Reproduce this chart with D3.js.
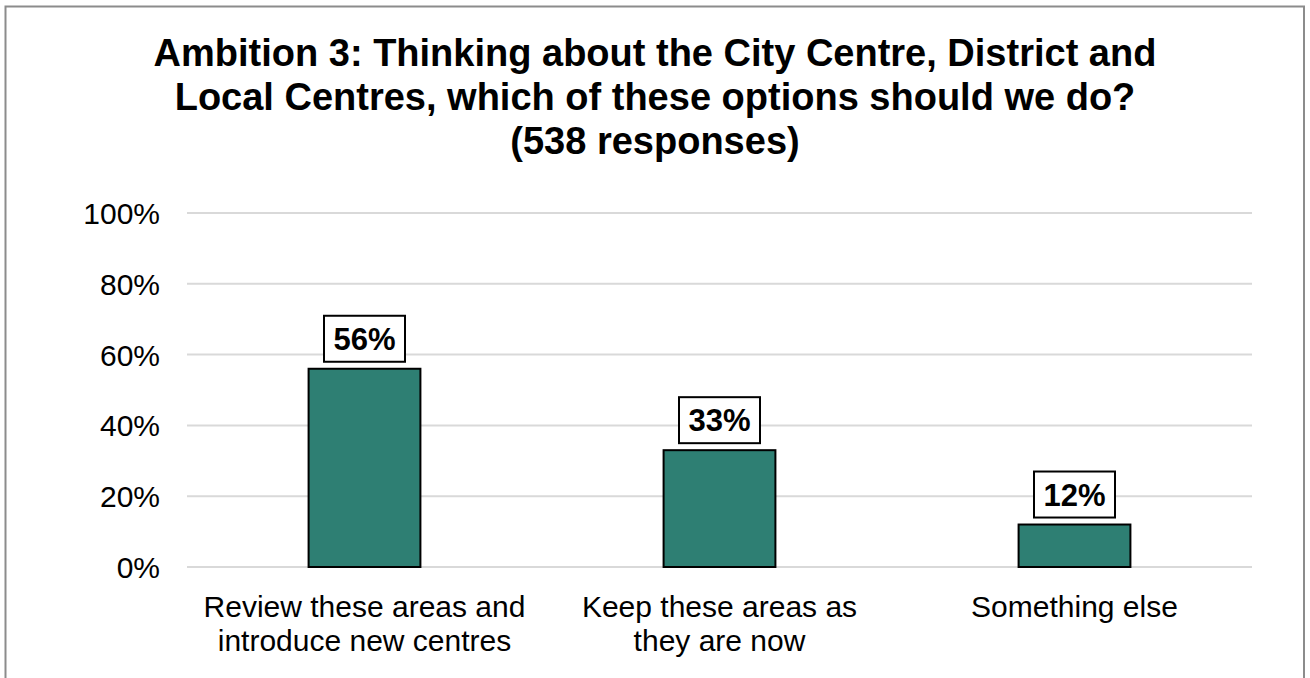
<!DOCTYPE html>
<html>
<head>
<meta charset="utf-8">
<script src="https://cdn.jsdelivr.net/npm/d3@7"></script>
<style>
  html, body { margin: 0; padding: 0; background: #fff; }
  svg { display: block; font-family: "Liberation Sans", Arial, sans-serif; }
</style>
</head>
<body>
<svg id="chart" width="1310" height="678"></svg>
<script>
// Survey results: share of responses per option
const titleLines = [
  "Ambition 3: Thinking about the City Centre, District and",
  "Local Centres, which of these options should we do?",
  "(538 responses)"
];
const categories = [
  ["Review these areas and", "introduce new centres"],
  ["Keep these areas as", "they are now"],
  ["Something else"]
];
const values = [56, 33, 12];
const yTicks = [0, 20, 40, 60, 80, 100];

const svg = d3.select("#chart");
const W = 1310, H = 678;

// outer frame
svg.append("rect")
  .attr("x", 5.5).attr("y", 6.5)
  .attr("width", W - 6.5 - 5).attr("height", H + 10)
  .attr("fill", "#fff").attr("stroke", "#8c8c8c").attr("stroke-width", 2);

// title
const title = svg.append("text")
  .attr("text-anchor", "middle")
  .attr("font-weight", "bold")
  .attr("font-size", 38)
  .attr("fill", "#000");
titleLines.forEach((t, i) => {
  title.append("tspan").attr("x", 655).attr("y", 66 + i * 44).text(t);
});

const plot = { left: 187, right: 1252, top: 213, bottom: 567 };

const x = d3.scaleBand()
  .domain(d3.range(values.length))
  .range([plot.left, plot.right])
  .paddingInner(0.685)
  .paddingOuter(0.3425);

const y = d3.scaleLinear().domain([0, 100]).range([plot.bottom, plot.top]);

// gridlines
svg.append("g")
  .selectAll("line")
  .data(yTicks)
  .join("line")
  .attr("x1", plot.left).attr("x2", plot.right)
  .attr("y1", d => y(d)).attr("y2", d => y(d))
  .attr("stroke", "#d9d9d9").attr("stroke-width", 2);

// y axis labels
const yAxis = d3.axisLeft(y).tickValues(yTicks).tickFormat(d => d + "%").tickSize(0).tickPadding(0);
const gy = svg.append("g").attr("transform", `translate(${plot.left - 27},0)`).call(yAxis);
gy.select(".domain").remove();
gy.selectAll("text")
  .attr("font-family", "Liberation Sans, Arial, sans-serif")
  .attr("font-size", 30).attr("fill", "#000").attr("dy", "0.35em");

// bars
svg.append("g")
  .selectAll("rect")
  .data(values)
  .join("rect")
  .attr("x", (d, i) => x(i))
  .attr("y", d => y(d))
  .attr("width", x.bandwidth())
  .attr("height", d => y(0) - y(d))
  .attr("fill", "#2e7f73")
  .attr("stroke", "#000").attr("stroke-width", 2);

// value labels in boxes
const lbl = svg.append("g")
  .selectAll("g")
  .data(values)
  .join("g")
  .attr("transform", (d, i) => `translate(${x(i) + x.bandwidth() / 2},${y(d) - 30})`);
lbl.append("rect")
  .attr("x", -40.5).attr("y", -23).attr("width", 81).attr("height", 46)
  .attr("fill", "#fff").attr("stroke", "#000").attr("stroke-width", 2);
lbl.append("text")
  .attr("text-anchor", "middle").attr("y", 11)
  .attr("font-weight", "bold").attr("font-size", 31)
  .text(d => d + "%");

// category labels
const cat = svg.append("g")
  .selectAll("text")
  .data(categories)
  .join("text")
  .attr("text-anchor", "middle")
  .attr("font-size", 30).attr("fill", "#000");
cat.each(function(lines, i) {
  const t = d3.select(this);
  lines.forEach((s, j) => {
    t.append("tspan")
      .attr("x", x(i) + x.bandwidth() / 2)
      .attr("y", 617 + j * 34)
      .text(s);
  });
});
</script>
</body>
</html>
